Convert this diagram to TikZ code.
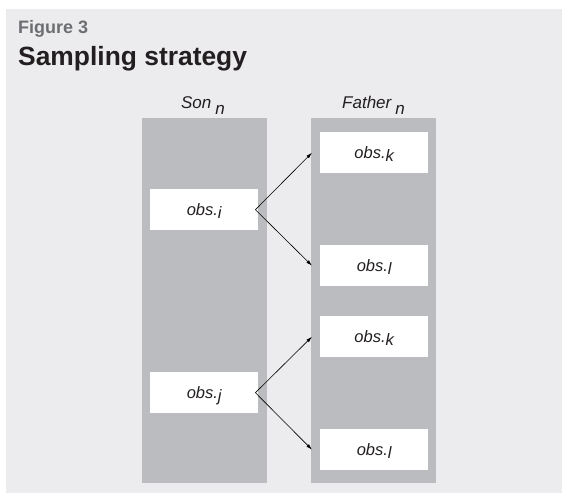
\documentclass[tikz,border=0pt]{standalone}
\usepackage{fontspec}
\setmainfont{Liberation Sans}
\usetikzlibrary{arrows.meta,calc}
\definecolor{bgc}{HTML}{ECECEE}
\definecolor{colc}{HTML}{BBBCBF}
\definecolor{figc}{HTML}{6D6E71}
\definecolor{txtc}{HTML}{231F20}
\begin{document}
\begin{tikzpicture}[x=1pt,y=-1pt,
  column/.style={fill=colc,draw=none,minimum width=125pt,minimum height=365pt,inner sep=0pt,anchor=north west},
  obsbox/.style={fill=white,draw=none,minimum width=108pt,minimum height=41pt,inner sep=0pt,anchor=north west,
     text=txtc,text height=12pt,text depth=0pt,font=\fontsize{16.5}{18}\selectfont\itshape},
  colhead/.style={font=\fontsize{17}{19}\selectfont\itshape,text=txtc,inner sep=0pt,anchor=base},
  arr/.style={-{Latex[length=6pt,width=3.5pt]},line width=0.6pt,black}]
\useasboundingbox (0,0) rectangle (562,493);
\fill[white] (0,0) rectangle (562,493);
\fill[bgc] (6,9) rectangle (562,493);
\node[anchor=base west,inner sep=0pt,text=figc,font=\fontsize{18}{20}\selectfont\bfseries] (fig) at (18,33) {Figure 3};
\node[anchor=base west,inner sep=0pt,text=txtc,font=\fontsize{26.4}{28}\selectfont\bfseries] (title) at (18,65) {Sampling strategy};
\node[column] (S) at (142,118) {};
\node[column] (F) at (311,118) {};
\node[colhead] (sonh) at (203,108.5) {Son\hspace{4pt}\raisebox{-6pt}{n}};
\node[colhead] (fath) at (373.5,108.5) {Father\hspace{4pt}\raisebox{-6pt}{n}};
\node[obsbox] (oi) at (150,189) {obs.\raisebox{-3pt}{i}};
\node[obsbox] (oj) at (150,372) {obs.\raisebox{-3pt}{j}};
\node[obsbox] (ok1) at (320,132) {obs.\raisebox{-3pt}{k}};
\node[obsbox] (ol1) at (320,245) {obs.\raisebox{-3pt}{l}};
\node[obsbox] (ok2) at (320,316) {obs.\raisebox{-3pt}{k}};
\node[obsbox] (ol2) at (320,429) {obs.\raisebox{-3pt}{l}};
\coordinate (vi) at ($(oi.east)+(-3,0)$);
\coordinate (vj) at ($(oj.east)+(-3,0)$);
\draw[arr] (vi) -- ($(ok1.west -| F.west)+(1,0)$);
\draw[arr] (vi) -- ($(ol1.west -| F.west)+(1,0)$);
\draw[arr] (vj) -- ($(ok2.west -| F.west)+(1,0)$);
\draw[arr] (vj) -- ($(ol2.west -| F.west)+(1,0)$);
\end{tikzpicture}
\end{document}
